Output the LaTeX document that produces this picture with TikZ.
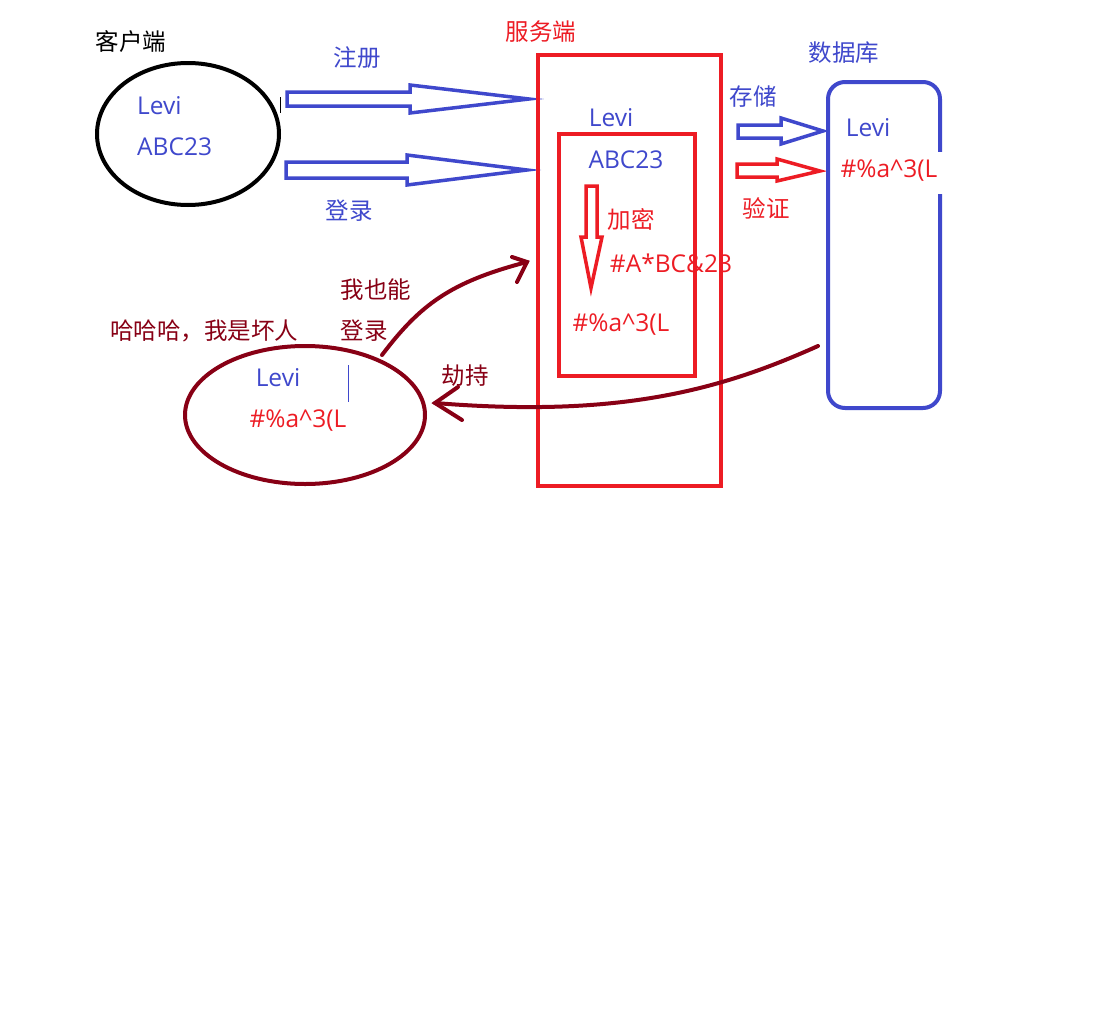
\documentclass[tikz,border=0pt]{standalone}
\usepackage{fontspec}
\setmainfont{Noto Sans CJK SC}
\newfontfamily\latfont{Open Sans}
\definecolor{pblue}{HTML}{3F48CC}
\definecolor{pred}{HTML}{ED1C24}
\definecolor{pdark}{HTML}{880015}
\begin{document}
\begin{tikzpicture}[x=1pt,y=-1pt,
  cjk/.style={inner sep=0pt,font=\fontsize{23.5}{26}\selectfont},
  lat/.style={inner sep=0pt,font=\latfont\fontsize{24.5}{28}\selectfont},
  blue/.style={text=pblue},
  red/.style={text=pred},
  dark/.style={text=pdark},
  hollow/.style={line width=3.5pt,line join=miter},
  curvy/.style={pdark,line width=4pt,line cap=round}]
\useasboundingbox (0,0) rectangle (1106,1036);
\fill[white] (0,0) rectangle (1106,1036);

% client
\draw[line width=4pt] (188,134) ellipse [x radius=91, y radius=71];
\node[cjk] (client) at (131,42) {客户端};
\node[lat,blue,anchor=west] (cl1) at (137,106) {Levi};
\node[lat,blue,anchor=west] (cl2) at (137,147) {ABC23};
\draw[line width=0.8pt] (280,97) -- (280,113);

% register / login arrows
\draw[pblue,hollow] (287,92) -- (410,92) -- (410,85) -- (529,99) -- (410,113) -- (410,106) -- (287,106) -- cycle;
\draw[pblue,hollow] (286,162) -- (407,162) -- (407,155) -- (527,170) -- (407,185) -- (407,178) -- (286,178) -- cycle;
\node[cjk,blue] (reg) at (357,58) {注册};
\node[cjk,blue] (login) at (349,211) {登录};

% server
\draw[pred,line width=4pt] (538,55) rectangle (721,486);
\draw[pred,line width=4pt] (559,134) rectangle (695,376);
\node[cjk,red] (server) at (541,32) {服务端};
\node[lat,blue] (sv1) at (611,118) {Levi};
\node[lat,blue] (sv2) at (626,160) {ABC23};
\draw[pred,hollow] (586,186) -- (597,186) -- (597,237) -- (602,237) -- (591,288) -- (581,237) -- (586,237) -- cycle;
\node[cjk,red] (enc) at (631,219) {加密};
\node[lat,red] (sv3) at (671,263) {\#A*BC\&23};
\node[lat,red] (sv4) at (621,325) {\#\%a\^{}3(L};

% store / verify arrows
\draw[pblue,hollow] (738,125) -- (781,125) -- (781,118) -- (823,131) -- (781,144) -- (781,138) -- (738,138) -- cycle;
\draw[pred,hollow] (737,164) -- (777,164) -- (777,159) -- (820,171) -- (777,181) -- (777,177) -- (737,177) -- cycle;
\node[cjk,blue] (store) at (753,97) {存储};
\node[cjk,red] (verify) at (766,208) {验证};

% database
\draw[pblue,line width=4pt,rounded corners=17pt] (828,82) rectangle (940,408);
\fill[white] (936,152) rectangle (945,194);
\node[cjk,blue] (dbt) at (844,53) {数据库};
\node[lat,blue] (db1) at (868,128) {Levi};
\node[lat,red] (db2) at (889,171) {\#\%a\^{}3(L};

% attacker
\draw[pdark,line width=4pt] (305,415) ellipse [x radius=120, y radius=69];
\node[cjk,dark] (bad) at (204,331) {哈哈哈，我是坏人};
\node[cjk,dark] (also) at (376,290) {我也能};
\node[cjk,dark] (also2) at (364,331) {登录};
\node[cjk,dark] (hij) at (465,376) {劫持};
\node[lat,blue] (bd1) at (278,378) {Levi};
\node[lat,red] (bd2) at (298,421) {\#\%a\^{}3(L};
\draw[pblue,line width=1pt] (348,365) -- (348,402);

% curves
\coordinate (c1s) at (382,355);
\coordinate (c1e) at (527,262);
\draw[curvy] (c1s) .. controls (420,305) and (450,282) .. (c1e);
\draw[curvy] (512,257) -- (c1e) -- (517,282);
\coordinate (c2s) at (818,346);
\coordinate (c2e) at (435,403);
\draw[curvy] (c2s) .. controls (720,390) and (620,418) .. (c2e);
\draw[curvy] (458,387) -- (c2e) -- (462,420);
\end{tikzpicture}
\end{document}
